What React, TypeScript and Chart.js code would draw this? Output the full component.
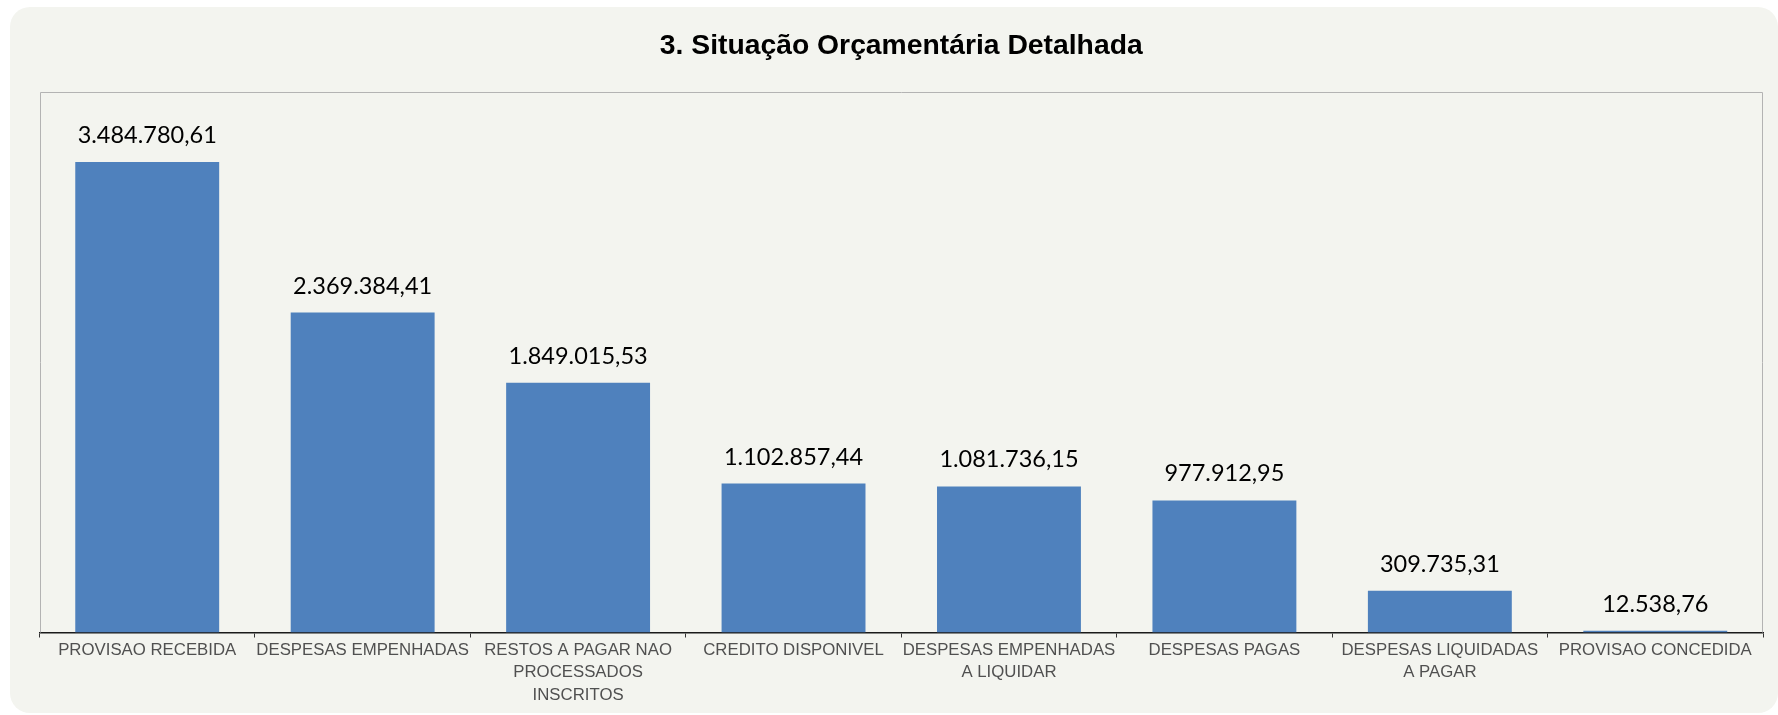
import React, { useEffect, useRef } from "react";
import { Chart, registerables } from "chart.js";

Chart.register(...registerables);

const titleText = "3. Situação Orçamentária Detalhada";

const categories: (string | string[])[] = [
  "PROVISAO RECEBIDA",
  "DESPESAS EMPENHADAS",
  ["RESTOS A PAGAR NAO", "PROCESSADOS", "INSCRITOS"],
  "CREDITO DISPONIVEL",
  ["DESPESAS EMPENHADAS", "A LIQUIDAR"],
  "DESPESAS PAGAS",
  ["DESPESAS LIQUIDADAS", "A PAGAR"],
  "PROVISAO CONCEDIDA",
];

const values: number[] = [
  3484780.61, 2369384.41, 1849015.53, 1102857.44, 1081736.15, 977912.95,
  309735.31, 12538.76,
];

const yMin = 0;
const yMax = 4000000;

function formatBR(v: number): string {
  const fixed = v.toFixed(2);
  const [intPart, dec] = fixed.split(".");
  const withDots = intPart.replace(/\B(?=(\d{3})+(?!\d))/g, ".");
  return withDots + "," + dec;
}

const plotBorderPlugin = {
  id: "plotBorder",
  beforeDatasetsDraw(chart: any) {
    const { ctx, chartArea } = chart;
    const l = Math.round(chartArea.left) + 0.5;
    const r = Math.round(chartArea.right) - 0.5;
    const t = Math.round(chartArea.top) + 0.5;
    const b = chartArea.bottom;
    ctx.save();
    ctx.strokeStyle = "#b3b3b3";
    ctx.lineWidth = 1;
    ctx.beginPath();
    ctx.moveTo(l, b);
    ctx.lineTo(l, t);
    ctx.lineTo(r, t);
    ctx.lineTo(r, b);
    ctx.stroke();
    ctx.restore();
  },
};

const valueLabelPlugin = {
  id: "valueLabels",
  afterDatasetsDraw(chart: any) {
    const { ctx } = chart;
    const meta = chart.getDatasetMeta(0);
    const data = chart.data.datasets[0].data as number[];
    ctx.save();
    ctx.fillStyle = "#000000";
    ctx.font = "23.5px Lato, 'Liberation Sans', sans-serif";
    ctx.textAlign = "center";
    ctx.textBaseline = "alphabetic";
    meta.data.forEach((bar: any, i: number) => {
      ctx.fillText(formatBR(data[i]), bar.x, bar.y - 19);
    });
    ctx.restore();
  },
};

export default function App() {
  const canvasRef = useRef<HTMLCanvasElement | null>(null);

  useEffect(() => {
    const canvas = canvasRef.current;
    if (!canvas) return;
    const chart = new Chart(canvas, {
      type: "bar",
      data: {
        labels: categories,
        datasets: [
          {
            data: values,
            backgroundColor: "#4f81bd",
            borderWidth: 0,
            barPercentage: 0.668,
            categoryPercentage: 1,
          },
        ],
      },
      options: {
        responsive: false,
        animation: false,
        layout: { padding: { left: 29.5, right: 15, top: 0, bottom: 0 } },
        plugins: {
          legend: { display: false },
          tooltip: { enabled: false },
          title: {
            display: true,
            text: titleText,
            color: "#000000",
            font: {
              family: "'Liberation Sans', Arial, sans-serif",
              size: 28.3,
              weight: "bold",
              lineHeight: 1.2,
            },
            padding: { top: 22, bottom: 29.5 },
          },
        },
        scales: {
          x: {
            offset: true,
            grid: {
              display: true,
              offset: true,
              drawOnChartArea: false,
              drawTicks: true,
              tickLength: 5,
              color: "#333333",
            },
            border: { display: true, color: "#1a1a1a", width: 1.6 },
            ticks: {
              autoSkip: false,
              maxRotation: 0,
              minRotation: 0,
              padding: 2,
              color: "#505050",
              font: {
                family: "'Liberation Sans', Arial, sans-serif",
                size: 16.8,
                lineHeight: 1.32,
              },
            },
            afterFit(scale: any) {
              scale.height = 80.5;
            },
          },
          y: {
            display: false,
            min: yMin,
            max: yMax,
          },
        },
      },
      plugins: [plotBorderPlugin, valueLabelPlugin],
    });
    return () => chart.destroy();
  }, []);

  return (
    <div
      style={{
        position: "absolute",
        left: 10,
        top: 7,
        width: 1768,
        height: 706,
        background: "#f3f4ef",
        borderRadius: 20,
        overflow: "hidden",
      }}
    >
      <canvas
        ref={canvasRef}
        width={1768}
        height={706}
        style={{ display: "block", width: 1768, height: 706 }}
      />
    </div>
  );
}
